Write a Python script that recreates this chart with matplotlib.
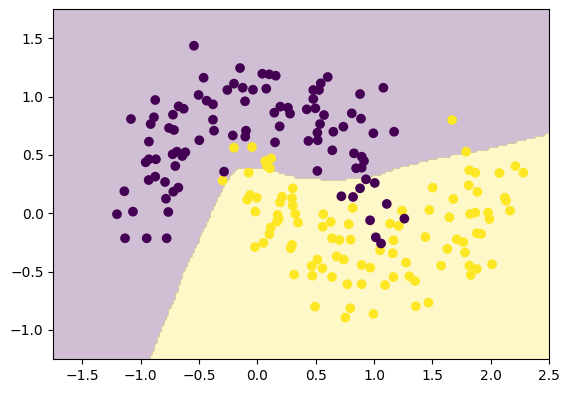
import numpy as np
import matplotlib
matplotlib.use("Agg")
import matplotlib.pyplot as plt

# class 0 (upper moon)
purple_x = [-0.544, -0.461, -0.504, -0.435, -0.381, -0.876, -0.675, -0.632, -0.724, -1.084,
            -0.887, -0.915, -0.758, -0.715, -0.381, -0.372, -0.498, -0.930, -0.958, -0.930,
            -0.870, -0.727, -0.690, -0.644, -0.618, -0.704, -0.932, -0.876, -0.792, -1.141,
            -0.678, -0.721, -0.784, -1.204, -1.067, -0.764, -1.135, -0.949, -0.778, -0.149,
            0.042, 0.102, 0.157, 0.603, 0.543, 0.479, 0.528, -0.201, -0.258, -0.126,
            -0.038, 0.076, -0.106, 0.880, 1.080, 0.479, 0.196, 0.145, 0.262, 0.280,
            0.423, 0.497, 0.571, 0.809, 0.888, 0.537, 0.191, 0.737, 0.651, 0.514,
            0.994, -0.211, -0.098, -0.104, 0.151, 0.437, 0.517, 0.642, 0.828, 0.894,
            0.914, 0.846, 0.894, 0.514, -0.286, 0.931, 1.006, 0.880, 0.720, 0.820,
            0.966, 1.015, 1.060, 1.172, 1.109, 1.260]
purple_y = [1.435, 1.161, 1.013, 0.964, 0.933, 0.970, 0.916, 0.895, 0.844, 0.807,
            0.822, 0.764, 0.730, 0.713, 0.801, 0.707, 0.625, 0.613, 0.436, 0.462,
            0.462, 0.505, 0.527, 0.490, 0.522, 0.404, 0.284, 0.313, 0.267, 0.188,
            0.219, 0.184, 0.124, -0.009, 0.013, 0.010, -0.215, -0.215, -0.215, 1.244,
            1.195, 1.190, 1.178, 1.167, 1.113, 1.056, 1.056, 1.110, 1.056, 1.075,
            1.058, 1.067, 0.959, 1.021, 1.075, 0.979, 0.913, 0.861, 0.904, 0.853,
            0.890, 0.899, 0.841, 0.856, 0.810, 0.764, 0.744, 0.741, 0.698, 0.690,
            0.685, 0.666, 0.707, 0.656, 0.607, 0.619, 0.625, 0.539, 0.513, 0.484,
            0.447, 0.385, 0.390, 0.362, 0.356, 0.290, 0.259, 0.213, 0.145, 0.139,
            -0.061, -0.207, -0.260, 0.698, 0.079, -0.047]

# class 1 (lower moon)
yellow_x = [1.669, -0.201, -0.046, 0.068, 0.119, 0.080, 0.108, -0.075, -0.298, 0.303,
            -0.063, -0.087, -0.006, 0.211, 0.194, 0.297, 0.303, -0.018, 0.325, 0.174,
            0.183, 0.166, 0.348, 0.565, 0.629, 0.560, 0.817, 0.783, 0.114, 0.102,
            0.051, -0.021, 0.297, 0.640, 0.702, 0.800, 0.285, 0.514, 0.466, 0.557,
            0.314, 0.471, 0.680, 0.740, 0.640, 0.894, 0.968, 0.771, 0.894, 0.494,
            0.797, 0.754, 0.994, 1.789, 1.817, 1.869, 2.075, 2.212, 2.280, 1.503,
            1.812, 1.886, 1.680, 2.121, 2.132, 1.240, 1.474, 1.646, 1.823, 1.869,
            1.978, 1.989, 2.166, 1.137, 1.212, 1.440, 1.881, 1.918, 1.166, 1.709,
            1.766, 1.629, 1.051, 1.160, 1.780, 1.274, 1.166, 1.303, 1.352, 1.094,
            1.575, 1.817, 1.881, 1.829, 2.012, 1.466, 1.358]
yellow_y = [0.799, 0.561, 0.567, 0.447, 0.470, 0.407, 0.385, 0.347, 0.279, 0.213,
            0.156, 0.116, 0.133, 0.141, 0.093, 0.128, 0.064, 0.013, -0.007, -0.015,
            -0.050, -0.073, -0.081, -0.009, -0.075, -0.116, 0.045, -0.095, -0.124, -0.181,
            -0.255, -0.290, -0.272, -0.215, -0.230, -0.227, -0.300, -0.398, -0.452, -0.472,
            -0.527, -0.536, -0.370, -0.398, -0.547, -0.444, -0.467, -0.609, -0.609, -0.801,
            -0.815, -0.895, -0.864, 0.527, 0.368, 0.347, 0.344, 0.404, 0.347, 0.219,
            0.239, 0.182, 0.122, 0.133, 0.107, 0.021, 0.027, -0.035, -0.007, 0.004,
            0.004, -0.050, 0.021, -0.090, -0.110, -0.204, -0.172, -0.178, -0.232, -0.224,
            -0.250, -0.307, -0.318, -0.344, -0.338, -0.424, -0.547, -0.541, -0.581, -0.616,
            -0.450, -0.450, -0.478, -0.530, -0.438, -0.767, -0.798]

# decision boundary (class 1 lies below this curve)
boundary_x = [-0.92, -0.84, -0.72, -0.64, -0.55, -0.44, -0.36, -0.32, -0.26, -0.21,
              -0.15, 0.0, 0.15, 0.25, 0.37, 0.55, 0.75, 0.93, 1.05, 1.25,
              1.54, 1.79, 2.11, 2.5]
boundary_y = [-1.25, -1.04, -0.76, -0.53, -0.34, -0.10, 0.08, 0.16, 0.27, 0.34,
              0.39, 0.38, 0.36, 0.33, 0.30, 0.29, 0.29, 0.30, 0.33, 0.40,
              0.47, 0.51, 0.58, 0.68]

x_min, x_max = -1.75, 2.5
y_min, y_max = -1.25, 1.75
h = 0.02

fig = plt.figure(figsize=(5.70, 3.93), dpi=100)
ax = fig.add_axes([53.3 / 570, 34 / 393, (549 - 53.3) / 570, (359 - 9) / 393])

xx, yy = np.meshgrid(np.arange(x_min, x_max + h, h), np.arange(y_min, y_max + h, h))
curve = np.interp(xx, boundary_x, boundary_y, left=-10.0, right=boundary_y[-1])
Z = (yy < curve).astype(float)

cmap = plt.get_cmap("viridis")
ax.contourf(xx, yy, Z, levels=[-0.5, 0.5, 1.5], colors=[cmap(0.0), cmap(1.0)], alpha=0.25)

X = np.array(yellow_x + purple_x)
Y = np.array(yellow_y + purple_y)
labels = np.array([1] * len(yellow_x) + [0] * len(purple_x))
ax.scatter(X, Y, c=labels, cmap="viridis")

ax.set_xlim(x_min, x_max)
ax.set_ylim(y_min, y_max)

fig.savefig("out.png", dpi=100)
